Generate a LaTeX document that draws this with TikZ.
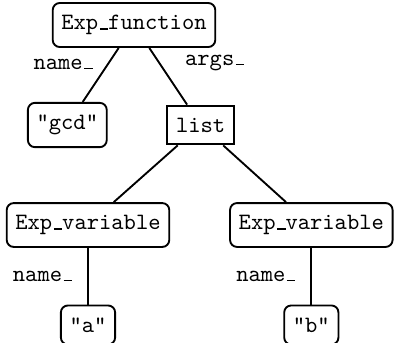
\documentclass[tikz,border=0pt]{standalone}
\usetikzlibrary{positioning}
\newcommand{\usc}{\leavevmode\kern.63pt\vbox{\hrule height .5pt width 3.6pt}}

\begin{document}
\begin{tikzpicture}[
		font=\ttfamily,
		expr/.style = {draw, thick, rounded corners=3pt, inner xsep=3.7pt, inner ysep=5.2pt},
		lst/.style = {draw, thick, inner xsep=3.7pt, inner ysep=5.2pt},
		lbl/.style = {inner sep=3.5pt},
		node distance = 1.5cm, on grid]
		\useasboundingbox (-2.01,0.375) rectangle (3.9,-4.755);
		\node (fun) [expr] {Exp\usc function};
		\node (gcd) [expr, below left = 1.5cm and 1cm of fun] {"gcd"};
		\node (args) [lst, below right = 1.5cm and 1cm of fun] {list};
		\node (varA) [expr, below left = 1.5cm and 1.69cm of args] {Exp\usc variable};
		\node (varB) [expr, below right = 1.5cm and 1.66cm of args] {Exp\usc variable};
		\node (a) [expr, below = of varA] {"a"};
		\node (b) [expr, below = of varB] {"b"};
		\path [thick]
		(fun) edge node[lbl, pos=.3, left=2.6pt] (nmf) {name\usc} (gcd)
		(fun) edge node[lbl, pos=.26, right=7.2pt] (agf) {args\usc} (args)
		(args) edge (varA)
		(args) edge (varB)
		(varA) edge node[lbl, left=2.9pt] (nma) {name\usc} (a)
		(varB) edge node[lbl, left=2.9pt] (nmb) {name\usc} (b);
	\end{tikzpicture}
\end{document}
